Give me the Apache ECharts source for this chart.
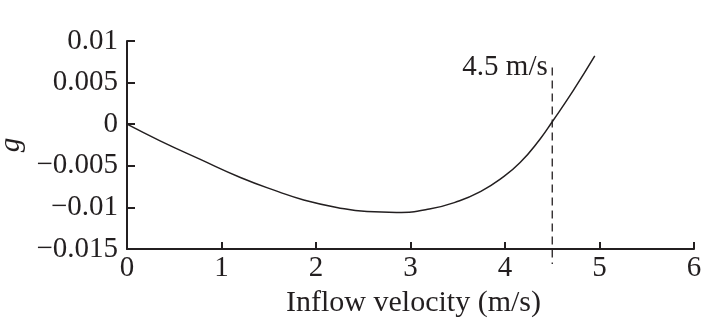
<!DOCTYPE html>
<html>
<head>
<meta charset="utf-8">
<script src="https://cdn.jsdelivr.net/npm/echarts@6/dist/echarts.min.js"></script>
<style>
html,body{margin:0;padding:0;background:#fff;}
#chart{width:720px;height:327px;}
</style>
</head>
<body>
<div id="chart"></div>
<script>
// Data
const velocity = [0, 0.35, 0.77, 1.2, 1.6, 1.87, 2.22, 2.54, 2.85, 3.2, 3.52, 3.74, 3.95, 4.16, 4.37, 4.5, 4.72, 4.95];
const gValues = [0, -0.0020, -0.0042, -0.0064, -0.0081, -0.0091, -0.0100, -0.0105, -0.0106, -0.0102, -0.0092, -0.0081, -0.0066, -0.0046, -0.0018, 0.0003, 0.0040, 0.0082];
const markerX = [4.5, 4.5];
const markerY = [0.0068, -0.0168];
const markerLabel = '4.5 m/s';
const xTickLabels = ['0', '1', '2', '3', '4', '5', '6'];
const yTickLabels = ['\u22120.015', '\u22120.01', '\u22120.005', '0', '0.005', '0.01'];
const xAxisTitle = 'Inflow velocity (m/s)';
const yAxisTitle = 'g';

const INK = '#231f20';
const FONT = '"Liberation Serif", "Times New Roman", serif';

const chart = echarts.init(document.getElementById('chart'), null, {renderer: 'canvas'});
const option = {
  backgroundColor: '#ffffff',
  animation: false,
  grid: {left: 127, right: 26, top: 41, bottom: 78, containLabel: false, outerBoundsMode: 'none'},
  xAxis: {
    type: 'value', min: 0, max: 6, interval: 1,
    name: xAxisTitle, nameLocation: 'middle', nameGap: 32,
    nameTextStyle: {fontFamily: FONT, fontSize: 30, color: INK, padding: [0, 0, 0, 6]},
    axisLine: {show: true, onZero: false, lineStyle: {color: INK, width: 2}},
    axisTick: {show: true, inside: true, length: 7, lineStyle: {color: INK, width: 2}},
    axisLabel: {margin: 5, fontFamily: FONT, fontSize: 29, color: INK,
      formatter: v => xTickLabels[Math.round(v)] ?? ''},
    splitLine: {show: false}
  },
  yAxis: {
    type: 'value', min: -0.015, max: 0.01, interval: 0.005,
    name: yAxisTitle, nameLocation: 'middle', nameGap: 91, nameRotate: 90,
    nameTextStyle: {fontFamily: FONT, fontSize: 29, fontStyle: 'italic', color: INK},
    axisLine: {show: true, onZero: false, lineStyle: {color: INK, width: 2}},
    axisTick: {show: true, inside: true, length: 8, lineStyle: {color: INK, width: 2}},
    axisLabel: {margin: 9, fontFamily: FONT, fontSize: 29, color: INK,
      formatter: v => yTickLabels[Math.round((v + 0.015) / 0.005)] ?? ''},
    splitLine: {show: false}
  },
  series: [
    {
      type: 'line', smooth: true, symbol: 'none',
      data: velocity.map((x, i) => [x, gValues[i]]),
      lineStyle: {color: INK, width: 1.5}
    },
    {
      type: 'line', symbol: 'circle', symbolSize: 1, showSymbol: true, clip: false, silent: true,
      itemStyle: {color: 'rgba(0,0,0,0)'},
      data: markerX.map((x, i) => i === 0 ? {
        value: [x, markerY[i]],
        label: {show: true, position: 'left', distance: 4, formatter: markerLabel,
          fontFamily: FONT, fontSize: 29, color: INK}
      } : {value: [x, markerY[i]], label: {show: false}}),
      lineStyle: {color: INK, width: 1.3, type: [8, 5]}
    }
  ]
};
chart.setOption(option);
</script>
</body>
</html>
